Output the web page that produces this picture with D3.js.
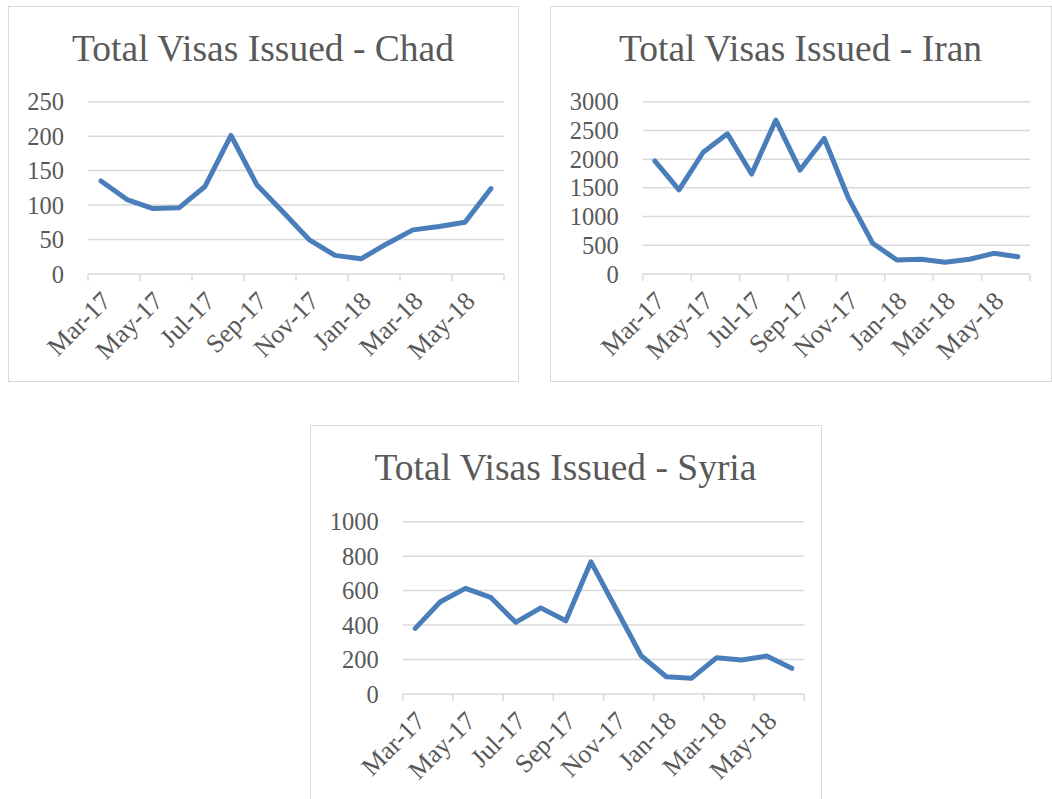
<!DOCTYPE html>
<html>
<head>
<meta charset="utf-8">
<script src="https://cdn.jsdelivr.net/npm/d3@7"></script>
<style>
	body { margin: 0; background: #fff; }
	svg { display: block; }
</style>
</head>
<body>
<svg width="1052" height="799"></svg>
<script>
// Months on the category axis
const months = [
	"Mar-17", "Apr-17", "May-17", "Jun-17", "Jul-17", "Aug-17", "Sep-17", "Oct-17",
	"Nov-17", "Dec-17", "Jan-18", "Feb-18", "Mar-18", "Apr-18", "May-18", "Jun-18",
];

// Visas issued per month
const chadValues = [135, 108, 95, 96, 127, 201, 129, 90, 50, 27, 22, 44, 64, 69, 75, 124];
const iranValues = [1970, 1465, 2120, 2440, 1740, 2680, 1810, 2360, 1320, 535, 244, 256, 204, 256, 360, 302];
const syriaValues = [381, 535, 613, 561, 416, 500, 425, 767, 495, 222, 100, 91, 210, 197, 220, 149];

// Y tick values
const chadTicks = [0, 50, 100, 150, 200, 250];
const iranTicks = [0, 500, 1000, 1500, 2000, 2500, 3000];
const syriaTicks = [0, 200, 400, 600, 800, 1000];

const textColor = "#595959";
const gridColor = "#d9d9d9";
const lineColor = "#4a7ebb";
const font = "Liberation Serif, serif";

const svg = d3.select("svg");

// Panel layout: outer box and plot area
const panels = [
	{ title: "Total Visas Issued - Chad", values: chadValues, ticks: chadTicks,
		box: { x: 8, y: 6, w: 510, h: 375 }, plot: { x0: 88, x1: 504, y0: 101.7, y1: 274 } },
	{ title: "Total Visas Issued - Iran", values: iranValues, ticks: iranTicks,
		box: { x: 550, y: 6, w: 501, h: 375 }, plot: { x0: 642.7, x1: 1030, y0: 101.7, y1: 274 } },
	{ title: "Total Visas Issued - Syria", values: syriaValues, ticks: syriaTicks,
		box: { x: 310, y: 425, w: 511, h: 380 }, plot: { x0: 402.7, x1: 804.3, y0: 521.7, y1: 694 } },
];

panels.forEach((p) => {
	const g = svg.append("g");

	// Border
	g.append("rect")
		.attr("x", p.box.x + 0.5)
		.attr("y", p.box.y + 0.5)
		.attr("width", p.box.w)
		.attr("height", p.box.h)
		.attr("fill", "#fff")
		.attr("stroke", gridColor)
		.attr("stroke-width", 1);

	// Title
	g.append("text")
		.attr("x", p.box.x + p.box.w / 2)
		.attr("y", p.box.y + 55)
		.attr("text-anchor", "middle")
		.attr("font-family", font)
		.attr("font-size", 37.5)
		.attr("fill", textColor)
		.text(p.title);

	const x = d3.scaleBand().domain(months).range([p.plot.x0, p.plot.x1]);
	const y = d3
		.scaleLinear()
		.domain([0, d3.max(p.ticks)])
		.range([p.plot.y1, p.plot.y0]);

	// Gridlines
	g.selectAll(".grid")
		.data(p.ticks.filter((t) => t > 0))
		.join("line")
		.attr("x1", p.plot.x0)
		.attr("x2", p.plot.x1)
		.attr("y1", (d) => y(d))
		.attr("y2", (d) => y(d))
		.attr("stroke", gridColor)
		.attr("stroke-width", 1.5);

	// Y labels
	g.selectAll(".ylab")
		.data(p.ticks)
		.join("text")
		.attr("x", p.plot.x0 - 24)
		.attr("y", (d) => y(d))
		.attr("dy", "0.35em")
		.attr("text-anchor", "end")
		.attr("font-family", font)
		.attr("font-size", 24.5)
		.attr("fill", textColor)
		.text((d) => d);

	// X axis line and ticks every two months
	g.append("line")
		.attr("x1", p.plot.x0)
		.attr("x2", p.plot.x1)
		.attr("y1", y(0))
		.attr("y2", y(0))
		.attr("stroke", gridColor)
		.attr("stroke-width", 1.5);

	const tickMonths = months.filter((m, i) => i % 2 === 0);
	const tickPos = tickMonths.map((m) => x(m)).concat([p.plot.x1]);
	g.selectAll(".xtick")
		.data(tickPos)
		.join("line")
		.attr("x1", (d) => d)
		.attr("x2", (d) => d)
		.attr("y1", y(0))
		.attr("y2", y(0) + 7)
		.attr("stroke", gridColor)
		.attr("stroke-width", 1.5);

	// X labels, rotated
	g.selectAll(".xlab")
		.data(tickMonths)
		.join("text")
		.attr("transform", (d) => `translate(${x(d) + x.bandwidth() / 2 + 5},${y(0) + 22}) rotate(-45)`)
		.attr("dy", "0.35em")
		.attr("text-anchor", "end")
		.attr("font-family", font)
		.attr("font-size", 26)
		.attr("fill", textColor)
		.text((d) => d);

	// Line
	const line = d3
		.line()
		.x((d, i) => x(months[i]) + x.bandwidth() / 2)
		.y((d) => y(d));

	g.append("path")
		.datum(p.values)
		.attr("d", line)
		.attr("fill", "none")
		.attr("stroke", lineColor)
		.attr("stroke-width", 5)
		.attr("stroke-linejoin", "round")
		.attr("stroke-linecap", "round");
});
</script>
</body>
</html>
